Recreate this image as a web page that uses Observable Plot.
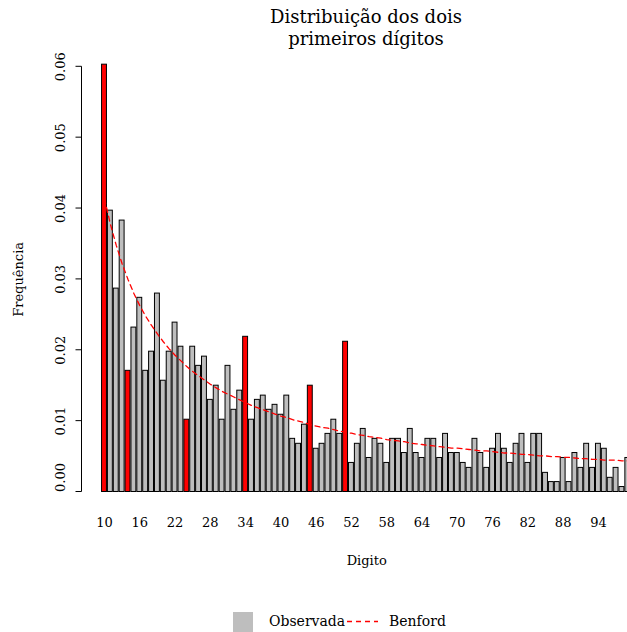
<!DOCTYPE html>
<html><head><meta charset="utf-8">
<script src="https://cdn.jsdelivr.net/npm/d3@7"></script>
<script src="https://cdn.jsdelivr.net/npm/@observablehq/plot@0.6"></script>
<style>
body{margin:0;background:#fff;width:627px;height:632px;overflow:hidden;position:relative;font-family:"DejaVu Serif",serif;color:#000;}
#title{position:absolute;left:105px;width:522px;top:6px;text-align:center;font-size:18px;line-height:22px;z-index:2;}
#chart{position:absolute;left:0;top:0;}
#chart svg{font-family:"DejaVu Serif",serif;}
.lg{position:absolute;font-size:14px;line-height:20px;top:611px;}
</style></head>
<body>
<div id="title">Distribuição dos dois<br>primeiros dígitos</div>
<div id="chart"></div>
<div class="lg" style="left:233px;top:612px;width:20px;height:20px;background:#BEBEBE;"></div>
<div class="lg" style="left:269px;">Observada</div>
<svg class="lg" style="left:347px;top:612px;" width="32" height="20"><line x1="0" y1="9.5" x2="31" y2="9.5" stroke="red" stroke-width="1.3" stroke-dasharray="5,4"/></svg>
<div class="lg" style="left:389px;">Benford</div>
<script>
const digits = [10,11,12,13,14,15,16,17,18,19,20,21,22,23,24,25,26,27,28,29,30,31,32,33,34,35,36,37,38,39,40,41,42,43,44,45,46,47,48,49,50,51,52,53,54,55,56,57,58,59,60,61,62,63,64,65,66,67,68,69,70,71,72,73,74,75,76,77,78,79,80,81,82,83,84,85,86,87,88,89,90,91,92,93,94,95,96,97,98,99];
const observed = [0.0603,0.0397,0.0287,0.0383,0.0171,0.0232,0.0274,0.0171,0.0198,0.0280,
0.0157,0.0198,0.0239,0.0205,0.0102,0.0205,0.0178,0.0191,0.0130,0.0150,
0.0102,0.0178,0.0116,0.0143,0.0219,0.0102,0.0130,0.0136,0.0116,0.0123,
0.0109,0.0136,0.0075,0.0068,0.0095,0.0150,0.0061,0.0068,0.0082,0.0102,
0.0082,0.0212,0.0041,0.0068,0.0089,0.0048,0.0075,0.0068,0.0041,0.0075,
0.0075,0.0055,0.0089,0.0055,0.0048,0.0075,0.0075,0.0048,0.0082,0.0055,
0.0055,0.0041,0.0034,0.0075,0.0055,0.0034,0.0061,0.0082,0.0061,0.0041,
0.0068,0.0082,0.0041,0.0082,0.0082,0.0027,0.0014,0.0014,0.0048,0.0014,
0.0055,0.0034,0.0068,0.0034,0.0068,0.0061,0.0020,0.0034,0.0007,0.0048];
const benford = [0.0414,0.0378,0.0348,0.0322,0.0300,0.0280,0.0263,0.0248,0.0235,0.0223,
0.0212,0.0202,0.0193,0.0185,0.0177,0.0170,0.0164,0.0158,0.0152,0.0147,
0.0142,0.0138,0.0134,0.0130,0.0126,0.0122,0.0119,0.0116,0.0113,0.0110,
0.0107,0.0105,0.0102,0.0100,0.0098,0.0095,0.0093,0.0091,0.0090,0.0088,
0.0086,0.0084,0.0083,0.0081,0.0080,0.0078,0.0077,0.0076,0.0074,0.0073,
0.0072,0.0071,0.0069,0.0068,0.0067,0.0066,0.0065,0.0064,0.0063,0.0062,
0.0062,0.0061,0.0060,0.0059,0.0058,0.0058,0.0057,0.0056,0.0055,0.0055,
0.0054,0.0053,0.0053,0.0052,0.0051,0.0051,0.0050,0.0050,0.0049,0.0049,
0.0048,0.0047,0.0047,0.0046,0.0046,0.0045,0.0045,0.0045,0.0044,0.0044];
const redDigits = [10,14,24,34,45,51];
const xTicks = [10,16,22,28,34,40,46,52,58,64,70,76,82,88,94];
const yTicks = [0,0.01,0.02,0.03,0.04,0.05,0.06];

const data = digits.map((d,i)=>({digit:d, observed:observed[i], benford:benford[i], red:redDigits.includes(d)}));
const step = 5.88;
const x0 = 104 - step/2;
const axisX = 81.5;
const chart = Plot.plot({
  width: 627, height: 600,
  marginTop: 66.3, marginBottom: 108.5, marginLeft: axisX, marginRight: 0,
  style: {fontFamily: "DejaVu Serif, serif", fontSize: "13px", background: "transparent"},
  x: {type: "band", domain: digits, range: [x0, x0 + digits.length*step], paddingInner: 0.2/1.2, paddingOuter: 0.1/1.2, axis: null},
  y: {domain: [0, 0.06], axis: null},
  marks: [
    Plot.barY(data.filter(d=>!d.red), {x: "digit", y: "observed", fill: "#BEBEBE", stroke: "black", strokeWidth: 1}),
    Plot.barY(data.filter(d=>d.red), {x: "digit", y: "observed", fill: "red", stroke: "black", strokeWidth: 1}),
    Plot.lineY(data, {x: "digit", y: "benford", stroke: "red", strokeWidth: 1.3, strokeDasharray: "5,4"}),
    Plot.text(yTicks.slice(1), {y: d=>d, text: d=>d.toFixed(2), frameAnchor: "left", dx: -21, rotate: -90, textAnchor: "middle", lineAnchor: "middle", fontSize: 13, fill: "black"}),
    Plot.text(yTicks.slice(0, 1), {y: d=>d, text: d=>d.toFixed(2), frameAnchor: "left", dx: -21, rotate: -90, textAnchor: "start", lineAnchor: "middle", fontSize: 13, fill: "black"}),
    Plot.text(xTicks, {x: d=>d, text: d=>String(d), frameAnchor: "bottom", dy: 31, textAnchor: "middle", lineAnchor: "middle", fontSize: 13, fill: "black"}),
    Plot.text(["Digito"], {text: d=>d, frameAnchor: "bottom", dx: 12, dy: 68.5, textAnchor: "middle", lineAnchor: "middle", fontSize: 13, fill: "black"}),
    Plot.text(["Frequência"], {text: d=>d, frameAnchor: "left", dx: -63.5, rotate: -90, textAnchor: "middle", lineAnchor: "middle", fontSize: 13, fill: "black"})
  ]
});
// y axis line and ticks, placed through the plot's own y scale
const ys = chart.scale("y");
const g = d3.select(chart).append("g").attr("stroke", "black").attr("stroke-width", 1).attr("fill", "none");
g.append("line").attr("x1", axisX).attr("x2", axisX)
  .attr("y1", ys.apply(yTicks[0])).attr("y2", ys.apply(yTicks[yTicks.length-1]));
yTicks.forEach(t => g.append("line").attr("x1", axisX - 6).attr("x2", axisX)
  .attr("y1", ys.apply(t)).attr("y2", ys.apply(t)));
document.getElementById("chart").appendChild(chart);
</script>
</body></html>
